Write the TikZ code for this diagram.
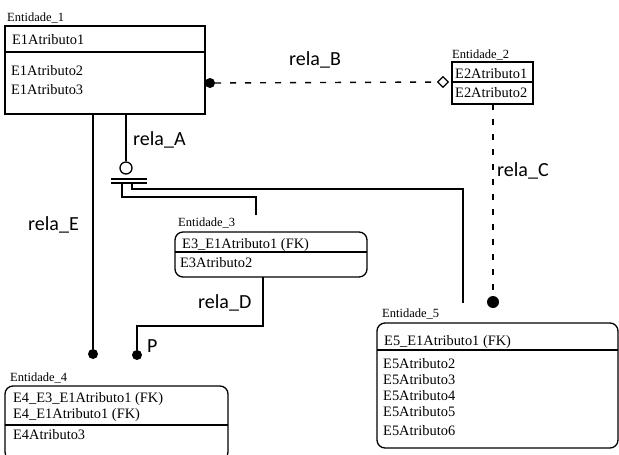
\documentclass[tikz,border=0pt]{standalone}
\usepackage{fontspec}
\setmainfont{Liberation Serif}
\newfontfamily\relafont{Carlito}
\usetikzlibrary{shapes.geometric}

\tikzset{
  entbox/.style={draw, line width=1.8pt, inner sep=0pt, outer sep=0pt},
  weakbox/.style={draw, line width=1.3pt, rounded corners=8pt, inner sep=0pt, outer sep=0pt},
  attr/.style={anchor=base west, inner sep=0pt, font=\fontsize{14.4}{16}\selectfont},
  entname/.style={anchor=base west, inner sep=0pt, font=\fontsize{12.5}{14}\selectfont},
  rela/.style={anchor=base west, inner sep=0pt, font=\relafont\fontsize{20}{22}\selectfont},
  dot/.style={circle, fill, inner sep=0pt, minimum size=10pt},
  link/.style={line width=1.4pt},
  dashlink/.style={line width=1.4pt, dash pattern=on 6pt off 9pt},
}

\begin{document}
\begin{tikzpicture}[x=1pt, y=-1pt]
    \useasboundingbox (0,0) rectangle (619,455);

    % Entidade_1
    \node[entname] (n1) at (7,21) {Entidade\_1};
    \node[entbox, minimum width=200pt, minimum height=88pt] (e1) at (105,70) {};
    \draw[line width=1.3pt] (e1.west |- 0,52) -- (e1.east |- 0,52);
    \node[attr] (a11) at (12,45) {E1Atributo1};
    \node[attr] (a12) at (11,75) {E1Atributo2};
    \node[attr] (a13) at (11,94) {E1Atributo3};

    % Entidade_2
    \node[entname] (n2) at (452,58) {Entidade\_2};
    \node[entbox, minimum width=81pt, minimum height=42pt] (e2) at (492.5,83) {};
    \draw[line width=1.3pt] (e2.west |- 0,82) -- (e2.east |- 0,82);
    \node[attr] (a21) at (455,78) {E2Atributo1};
    \node[attr] (a22) at (455,97) {E2Atributo2};

    % Entidade_3
    \node[entname] (n3) at (178,226) {Entidade\_3};
    \node[weakbox, minimum width=192pt, minimum height=45pt] (e3) at (271,254.5) {};
    \draw[line width=1.2pt] (e3.west |- 0,252) -- (e3.east |- 0,252);
    \node[attr] (a31) at (182,248) {E3\_E1Atributo1 (FK)};
    \node[attr] (a32) at (180,267) {E3Atributo2};

    % Entidade_4
    \node[entname] (n4) at (10,381) {Entidade\_4};
    \node[weakbox, minimum width=223pt, minimum height=74pt] (e4) at (116.5,423) {};
    \draw[line width=1.2pt] (e4.west |- 0,425) -- (e4.east |- 0,425);
    \node[attr] (a41) at (13,402) {E4\_E3\_E1Atributo1 (FK)};
    \node[attr] (a42) at (13,418) {E4\_E1Atributo1 (FK)};
    \node[attr] (a43) at (13,439) {E4Atributo3};

    % Entidade_5
    \node[entname] (n5) at (382,317) {Entidade\_5};
    \node[weakbox, minimum width=241pt, minimum height=125pt] (e5) at (497.5,385.5) {};
    \draw[line width=1.2pt] (e5.west |- 0,350) -- (e5.east |- 0,350);
    \node[attr] (a51) at (384,345) {E5\_E1Atributo1 (FK)};
    \node[attr] (a52) at (383,368) {E5Atributo2};
    \node[attr] (a53) at (383,384) {E5Atributo3};
    \node[attr] (a54) at (383,400) {E5Atributo4};
    \node[attr] (a55) at (383,416) {E5Atributo5};
    \node[attr] (a56) at (383,435) {E5Atributo6};

    % rela_A
    \node[circle, draw, line width=1.3pt, inner sep=0pt, minimum size=12pt] (cA) at (126,168) {};
    \draw[link] (e1.south -| cA) -- (cA);
    \coordinate (barL) at (111,179);
    \coordinate (barR) at (147,179);
    \draw[link] (barL) -- (barR);
    \draw[link] ([yshift=-4pt]barL) -- ([yshift=-4pt]barR);
    \coordinate (legL) at (122,183);
    \coordinate (legR) at (132,183);
    \coordinate (t3) at (256,215);
    \coordinate (t5) at (463,303);
    \draw[link] (legL) -- ++(0,14) -| (t3);
    \draw[link] (legR) -- ++(0,6) -| (t5);
    \node[rela] (rA) at (133,145) {rela\_A};

    % rela_B
    \node[dot] (dB) at (210,83) {};
    \node[diamond, draw, line width=1.2pt, inner sep=0pt, minimum size=11pt] (dmB) at (443,82) {};
    \draw[dashlink] (dB) -- (dmB);
    \node[rela] (rB) at (289,65) {rela\_B};

    % rela_C
    \node[dot, minimum size=12pt] (dC) at (493,302) {};
    \draw[dashlink] (e2.south -| dC) -- (dC);
    \node[rela] (rC) at (497,176) {rela\_C};

    % rela_D
    \node[dot] (dP) at (137,355) {};
    \draw[link] (e3.south -| 263,0) -- ++(0,49) -| (dP);
    \node[rela] (rD) at (198,308) {rela\_D};
    \node[rela] (p) at (147,352) {P};

    % rela_E
    \node[dot] (dE) at (93,354) {};
    \draw[link] (e1.south -| dE) -- (dE);
    \node[rela] (rE) at (28,230) {rela\_E};
\end{tikzpicture}
\end{document}
